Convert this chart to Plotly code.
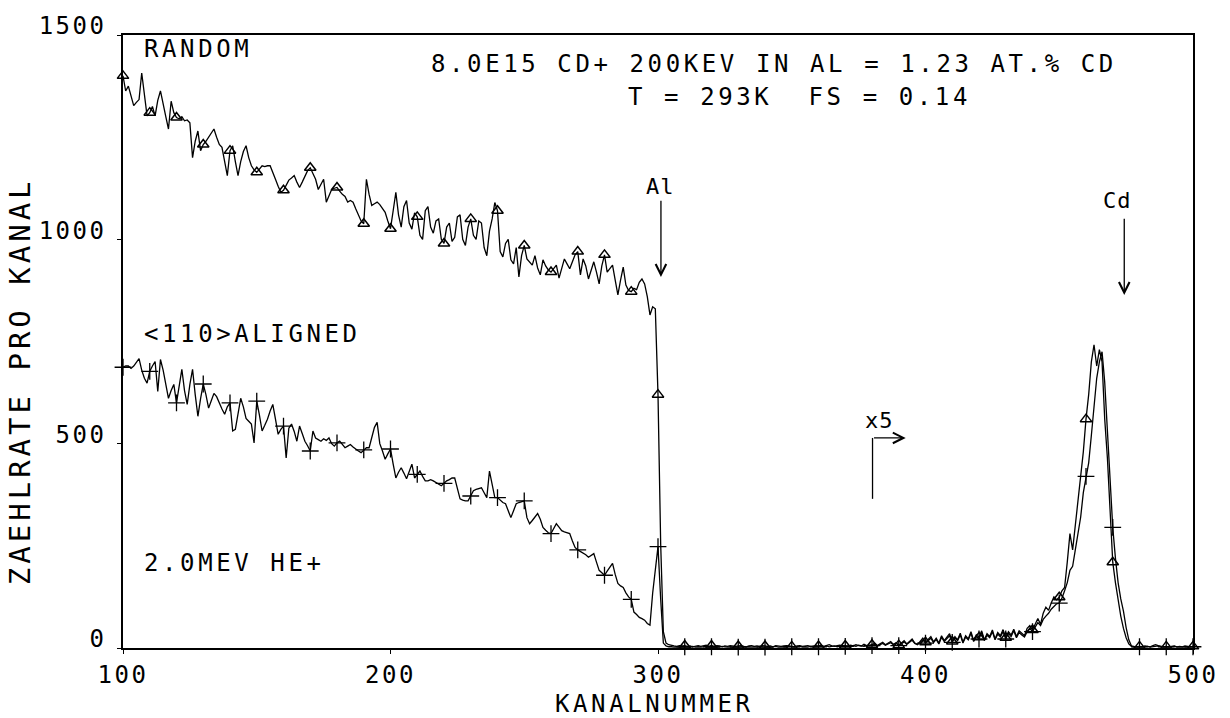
import plotly.graph_objects as go

# ---------------- data ----------------
channels = list(range(100, 501))

random_counts = [
    1400,1363,1375,1350,1327,1335,1342,1407,1350,1302,
    1310,1325,1302,1340,1363,1335,1300,1270,1338,1310,
    1298,1295,1300,1290,1292,1285,1200,1240,1265,1217,
    1232,1240,1250,1260,1270,1250,1232,1225,1190,1156,
    1217,1229,1190,1156,1190,1215,1229,1200,1180,1170,
    1164,1172,1180,1178,1180,1180,1165,1147,1130,1115,
    1120,1132,1145,1150,1156,1140,1127,1140,1155,1168,
    1175,1160,1147,1122,1135,1147,1091,1105,1122,1125,
    1127,1118,1110,1105,1091,1095,1091,1075,1059,1045,
    1038,1147,1110,1083,1087,1091,1085,1075,1066,1045,
    1026,1070,1115,1060,1030,1080,1095,1040,1025,1065,
    1055,1010,1000,1070,1080,1030,1015,1045,1050,1000,
    990,1030,1040,995,1005,1055,1060,1000,985,1030,
    1050,1010,1000,1045,1040,980,960,1020,1050,1090,
    1070,970,957,990,1000,950,940,980,908,960,
    985,952,945,937,960,930,913,950,935,925,
    920,930,937,905,930,952,940,928,945,962,
    970,913,952,935,903,925,945,920,891,935,
    962,920,930,937,900,864,900,932,888,875,
    872,880,877,895,903,891,860,815,835,830,
    620,255,40,12,8,6,5,4,6,5,
    6,4,5,3,5,6,4,5,7,4,
    6,4,6,5,3,5,4,6,5,4,
    5,6,4,3,5,6,4,5,4,6,
    5,4,5,3,6,5,4,5,6,5,
    4,3,5,6,4,5,6,4,5,6,
    5,7,4,6,8,5,4,6,7,5,
    6,4,7,5,8,6,5,9,6,7,
    8,12,6,10,14,8,11,16,9,13,
    7,12,18,10,15,22,12,9,16,24,
    14,20,28,15,24,12,30,18,26,35,
    16,28,20,36,14,30,22,40,18,32,
    26,42,20,35,28,44,22,38,30,45,
    25,40,32,46,28,42,36,30,48,55,
    44,60,72,58,85,100,92,110,125,118,
    124,140,148,210,280,240,300,360,420,480,
    560,620,700,742,690,730,700,560,465,330,
    210,160,115,78,48,25,10,4,2,3,
    4,3,5,4,3,6,8,6,4,3,
    4,3,4,5,3,4,3,5,4,3,
    4,
]

aligned_counts = [
    687,690,690,684,690,700,708,680,660,648,
    677,690,701,628,706,680,648,611,630,645,
    600,640,682,630,596,645,682,620,567,610,
    646,620,587,605,623,615,599,585,572,590,
    600,531,535,570,611,590,562,555,548,502,
    604,570,531,545,560,580,596,560,523,535,
    543,465,538,548,530,506,543,525,506,495,
    482,531,514,510,506,512,508,514,500,494,
    502,506,498,490,494,498,492,486,482,478,
    485,490,490,514,540,552,500,482,462,475,
    487,450,416,430,441,428,414,432,450,416,
    425,433,420,409,409,412,409,405,400,397,
    403,409,412,416,416,390,365,362,360,360,
    372,385,388,390,392,380,368,433,400,368,
    368,362,356,353,335,319,336,353,356,358,
    360,319,304,312,320,329,315,295,288,282,
    280,292,304,296,287,284,281,280,262,246,
    240,236,234,228,222,226,231,210,190,184,
    178,188,197,207,180,158,152,148,135,125,
    119,88,82,75,72,68,60,56,134,200,
    248,120,12,5,3,3,2,3,2,3,
    3,2,3,4,2,3,2,3,4,2,
    3,2,3,2,4,3,2,3,2,3,
    2,3,4,2,3,2,3,2,4,3,
    2,3,2,3,4,2,3,3,2,4,
    3,2,3,4,2,3,2,4,3,2,
    3,4,3,5,3,4,5,3,4,6,
    4,5,3,6,4,7,5,4,6,5,
    6,9,5,8,11,7,10,13,8,12,
    6,10,15,9,13,19,11,8,14,20,
    12,18,24,13,21,10,26,16,22,30,
    14,25,18,32,12,27,20,36,16,28,
    22,38,18,31,25,40,20,34,27,40,
    22,36,28,42,25,38,32,27,40,48,
    40,52,62,55,70,78,85,95,102,108,
    110,122,140,160,190,200,240,280,320,380,
    420,453,520,600,660,700,725,650,540,420,
    295,220,160,120,90,50,20,5,3,2,
    3,2,3,4,2,3,4,5,3,2,
    3,2,3,4,2,3,2,3,2,3,
    3,
]

marker_step = 10
x_ticks = [100, 200, 300, 400, 500]
y_ticks = [0, 500, 1000, 1500]

header_line1 = "8.0E15 CD+ 200KEV IN AL = 1.23 AT.% CD"
header_line2 = "T = 293K\u00a0 FS = 0.14"
label_random = "RANDOM"
label_aligned = "&lt;110&gt;ALIGNED"
label_beam = "2.0MEV HE+"
x_title = "KANALNUMMER"
y_title = "ZAEHLRATE PRO KANAL"

# ---------------- styling ----------------
FONT = "DejaVu Sans Mono"
FS = 24
LS = 3.6


def sp(s, ls=LS):
    return f'<span style="letter-spacing:{ls}px">{s}</span>'


fig = go.Figure()

fig.add_trace(go.Scatter(x=channels, y=random_counts, mode="lines",
                         line=dict(color="black", width=1.3), name="random",
                         cliponaxis=False))
fig.add_trace(go.Scatter(x=channels, y=aligned_counts, mode="lines",
                         line=dict(color="black", width=1.3), name="aligned",
                         cliponaxis=False))
fig.add_trace(go.Scatter(x=channels[::marker_step], y=random_counts[::marker_step],
                         mode="markers", cliponaxis=False,
                         marker=dict(symbol="triangle-up-open", size=10,
                                     color="black", line=dict(width=1.5, color="black"))))
fig.add_trace(go.Scatter(x=channels[::marker_step], y=aligned_counts[::marker_step],
                         mode="markers", cliponaxis=False,
                         marker=dict(symbol="cross-thin-open", size=12,
                                     color="black", line=dict(width=1.3, color="black"))))

ann = []
txt = dict(family=FONT, size=FS, color="black")
ann.append(dict(x=343.5, y=1429, xref="x", yref="y", text=sp(header_line1),
                showarrow=False, font=txt, xanchor="center", yanchor="middle"))
ann.append(dict(x=353, y=1349, xref="x", yref="y", text=sp(header_line2),
                showarrow=False, font=txt, xanchor="center", yanchor="middle"))
ann.append(dict(x=107, y=1466, xref="x", yref="y", text=sp(label_random),
                showarrow=False, font=txt, xanchor="left", yanchor="middle"))
ann.append(dict(x=107, y=769, xref="x", yref="y", text=sp(label_aligned),
                showarrow=False, font=txt, xanchor="left", yanchor="middle"))
ann.append(dict(x=107, y=209, xref="x", yref="y", text=sp(label_beam),
                showarrow=False, font=txt, xanchor="left", yanchor="middle"))
# element labels
small = dict(family=FONT, size=22, color="black")
ann.append(dict(x=300.8, y=1130, xref="x", yref="y", text=sp("Al", 1),
                showarrow=False, font=small, xanchor="center", yanchor="middle"))
ann.append(dict(x=471.8, y=1095, xref="x", yref="y", text=sp("Cd", 1),
                showarrow=False, font=small, xanchor="center", yanchor="middle"))
ann.append(dict(x=382.8, y=556, xref="x", yref="y", text=sp("x5", 1),
                showarrow=False, font=small, xanchor="center", yanchor="middle"))
# arrows
arrow = dict(showarrow=True, arrowhead=5, arrowsize=1.6, arrowwidth=1.3,
             arrowcolor="black", text="", xref="x", yref="y", axref="x", ayref="y")
ann.append(dict(x=301.1, y=908, ax=301.1, ay=1098, **arrow))
ann.append(dict(x=474.3, y=864, ax=474.3, ay=1054, **arrow))
ann.append(dict(x=392.6, y=514, ax=380.2, ay=514, **arrow))
# axis titles
ann.append(dict(x=0.497, y=-0.0915, xref="paper", yref="paper", text=sp(x_title),
                showarrow=False, font=txt, xanchor="center", yanchor="middle"))
ann.append(dict(x=-0.0955, y=0.435, xref="paper", yref="paper", text=sp(y_title, 4.0),
                showarrow=False, font=dict(family=FONT, size=29, color="black"),
                xanchor="center", yanchor="middle", textangle=-90))

shapes = [dict(type="line", xref="x", yref="y", x0=380.2, x1=380.2, y0=365, y1=514,
               line=dict(color="black", width=1.3))]

axis_common = dict(showgrid=False, zeroline=False, showline=True, mirror=True,
                   linecolor="black", linewidth=1.5, ticks="outside", ticklen=4,
                   tickwidth=1.3, tickcolor="black",
                   tickfont=dict(family=FONT, size=FS, color="black"))

fig.update_layout(
    width=1230, height=718,
    margin=dict(l=123, r=33, t=32, b=70),
    paper_bgcolor="white", plot_bgcolor="white",
    showlegend=False,
    annotations=ann, shapes=shapes,
    xaxis=dict(range=[100, 500], tickvals=x_ticks,
               ticktext=[sp(str(v), 2.5) for v in x_ticks], ticklabelstandoff=0,
               **axis_common),
    yaxis=dict(range=[0, 1500], tickvals=y_ticks,
               ticktext=[sp(str(v), 2.5) for v in y_ticks], ticklabelshift=-9,
               ticklabelstandoff=6, **axis_common),
)

fig.write_html("out.html")
